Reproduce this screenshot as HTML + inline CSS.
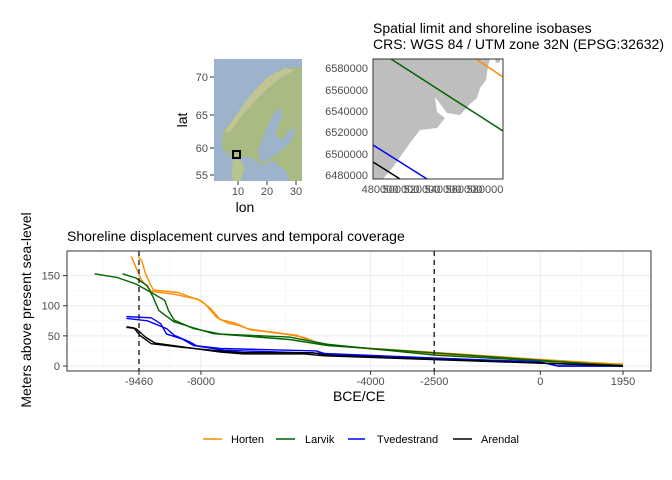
<!DOCTYPE html>
<html><head><meta charset="utf-8"><style>
body{margin:0;background:#fff;font-family:"Liberation Sans",sans-serif}
svg{display:block}
text{font-family:"Liberation Sans",sans-serif}
</style></head><body>
<svg id="c" width="672" height="480" xmlns="http://www.w3.org/2000/svg">
<rect width="672" height="480" fill="#fff"/>
<g>
<rect x="214" y="59" width="88" height="122" fill="#9cb3cb"/>
<polygon fill="#a9bb82" points="222,140 224,130 233,120 243,105 255,90 268,77 285,68 302,67 302,181 290,181 285,170 272,160 262,165 255,160 248,156 240,158 232,158 226,152 222,146"/>
<polygon fill="#ccc89a" opacity="0.7" points="224,132 233,120 243,105 255,90 268,77 285,68 295,70 280,78 266,90 252,104 240,118 230,132"/>
<polygon fill="#9cb3cb" points="262,140 268,125 275,112 280,108 283,115 278,125 276,135 282,140 290,130 296,128 292,140 285,148 275,155 268,160 260,162 258,150"/>
<polygon fill="#b8c48e" points="233,160 240,160 245,168 240,181 233,181 232,170"/>
<rect x="233" y="151" width="7" height="7" fill="none" stroke="#000" stroke-width="2"/>
</g>
<g font-size="11" fill="#4d4d4d" text-anchor="end">
<text x="208" y="81">70</text><text x="208" y="119">65</text><text x="208" y="152">60</text><text x="208" y="179">55</text>
</g>
<g stroke="#333"><line x1="210" x2="214" y1="77" y2="77"/><line x1="210" x2="214" y1="115" y2="115"/><line x1="210" x2="214" y1="148" y2="148"/><line x1="210" x2="214" y1="175" y2="175"/>
<line x1="238" x2="238" y1="181" y2="185"/><line x1="267" x2="267" y1="181" y2="185"/><line x1="296" x2="296" y1="181" y2="185"/></g>
<g font-size="11" fill="#4d4d4d" text-anchor="middle">
<text x="238" y="195">10</text><text x="267" y="195">20</text><text x="296" y="195">30</text></g>
<text x="245" y="212" font-size="14" text-anchor="middle">lon</text>
<text transform="translate(187,120) rotate(-90)" font-size="14" text-anchor="middle">lat</text>

<text x="373" y="33" font-size="14">Spatial limit and shoreline isobases</text>
<text x="373" y="49" font-size="14">CRS: WGS 84 / UTM zone 32N (EPSG:32632)</text>
<g>
<rect x="373" y="59" width="130" height="120" fill="#fff"/>
<polygon fill="#bebebe" points="373,59 490,59 488,66 486,80 480,88 477,98 470,104 460,115 447,113 435,97 437,112 445,118 437,128 420,130 410,143 403,153 393,167 383,179 373,179"/>
<polygon fill="#bebebe" points="495,59 500,59 500,62 496,63"/>
<line x1="391" y1="59" x2="503" y2="131" stroke="#006400" stroke-width="1.5"/>
<line x1="476" y1="59" x2="503" y2="77" stroke="#ff8c00" stroke-width="1.5"/>
<line x1="373" y1="145" x2="427" y2="179" stroke="#0000ff" stroke-width="1.5"/>
<line x1="373" y1="162" x2="400" y2="179" stroke="#000" stroke-width="1.5"/>
<rect x="373" y="59" width="130" height="120" fill="none" stroke="#333" stroke-width="1"/>
</g>
<g font-size="11" fill="#4d4d4d" text-anchor="end">
<text x="368" y="72">6580000</text><text x="368" y="94">6560000</text><text x="368" y="115">6540000</text><text x="368" y="136">6520000</text><text x="368" y="158">6500000</text><text x="368" y="179">6480000</text></g>
<g font-size="11" fill="#4d4d4d" text-anchor="middle">
<text x="380" y="193">480000</text><text x="401" y="193">500000</text><text x="422" y="193">520000</text><text x="443" y="193">540000</text><text x="464" y="193">560000</text><text x="485" y="193">580000</text></g>

<text x="67" y="241" font-size="14">Shoreline displacement curves and temporal coverage</text>
<g id="grid"></g>
<g id="series"></g>
<rect x="67" y="251" width="584" height="120" fill="none" stroke="#333" stroke-width="1"/>
<g id="axes" font-size="11" fill="#4d4d4d"></g>
<text x="359" y="401" font-size="14" text-anchor="middle">BCE/CE</text>
<text transform="translate(31,310) rotate(-90)" font-size="14" text-anchor="middle">Meters above present sea-level</text>
<g font-size="11">
<line x1="203" x2="222" y1="439" y2="439" stroke="#ff8c00" stroke-width="1.5"/><text x="231" y="443">Horten</text>
<line x1="276" x2="295" y1="439" y2="439" stroke="#006400" stroke-width="1.5"/><text x="305" y="443">Larvik</text>
<line x1="348" x2="365" y1="439" y2="439" stroke="#0000ff" stroke-width="1.5"/><text x="377" y="443">Tvedestrand</text>
<line x1="453" x2="472" y1="439" y2="439" stroke="#000" stroke-width="1.5"/><text x="481" y="443">Arendal</text>
</g>
</svg>
<script>
const xTicks=[-9460,-8000,-4000,-2500,0,1950];
const xMinor=[-10310,-8730,-6000,-3250,-1250,975];
const yTicks=[0,50,100,150];
const yMinor=[25,75,125];
const vlines=[-9460,-2500];
const seriesNames=["Horten","Horten","Larvik","Larvik","Tvedestrand","Tvedestrand","Arendal","Arendal"];
const seriesColors=["#ff8c00","#ff8c00","#006400","#006400","#0000ff","#0000ff","#000000","#000000"];
const hortenA_years=[-9641,-9532,-9397,-9171,-8628,-8086,-7905,-7634,-7362,-7091,-6820,-5916,-5554,-5193,-4108,-2480,1950];
const hortenA_m=[182,164,142,124,119,111,103,81,71,67,60,52,47,37,29,20,3];
const hortenB_years=[-9487,-9397,-9306,-9125,-8538,-7995,-7769,-7543,-7182,-6910,-6549,-5735,-5464,-5012,1950];
const hortenB_m=[182,175,153,126,122,108,95,77,71,62,58,51,43,34,2];
const larvikA_years=[-10509,-9984,-9532,-9171,-8854,-8764,-8628,-8176,-7543,-5916,-5464,-5012,-2480,1950];
const larvikA_m=[153,147,136,122,109,92,76,62,53,48,42,36,18,1];
const larvikB_years=[-9849,-9532,-9261,-9125,-8990,-8628,-7724,-5916,-5012,1950];
const larvikB_m=[153,146,133,114,92,73,54,44,34,0];
const tvedA_years=[-9758,-9171,-8945,-8809,-8447,-8176,-7543,-5283,-5012,-39,413,1950];
const tvedA_m=[82,80,70,53,45,34,29,25,19,7,0,0];
const tvedB_years=[-9758,-9261,-8809,-8628,-8266,-8086,-7453,-5193,52,413,1950];
const tvedB_m=[79,75,62,51,40,33,26,21,6,0,0];
const arenA_years=[-9758,-9578,-9442,-9171,-8447,-7724,-7001,-5374,-5012,1950];
const arenA_m=[65,63,51,37,31,26,22,22,18,0];
const arenB_years=[-9758,-9532,-9306,-9080,-8357,-7543,-7001,-5554,-5102,1950];
const arenB_m=[64,62,48,38,31,23,20,20,17,0];
const allYears=[hortenA_years,hortenB_years,larvikA_years,larvikB_years,tvedA_years,tvedB_years,arenA_years,arenB_years];
const allM=[hortenA_m,hortenB_m,larvikA_m,larvikB_m,tvedA_m,tvedB_m,arenA_m,arenB_m];

const NS="http://www.w3.org/2000/svg";
const X=v=>139+(v+9460)*0.04242;
const Y=v=>366-v*0.6027;
function mk(t,a,p){const e=document.createElementNS(NS,t);for(const k in a)e.setAttribute(k,a[k]);p.appendChild(e);return e;}
const grid=document.getElementById('grid'),ser=document.getElementById('series'),ax=document.getElementById('axes');
for(const v of xMinor){const l=mk('line',{x1:X(v),x2:X(v),y1:251,y2:371,stroke:'#f3f3f3','stroke-width':0.6},grid);

}
for(const v of yMinor){const l=mk('line',{x1:67,x2:651,y1:Y(v),y2:Y(v),stroke:'#f3f3f3','stroke-width':0.6},grid);

}
for(const v of xTicks){const l=mk('line',{x1:X(v),x2:X(v),y1:251,y2:371,stroke:'#ebebeb','stroke-width':1},grid);


mk('line',{x1:X(v),x2:X(v),y1:371,y2:375,stroke:'#333'},ax);
const t=mk('text',{x:X(v),y:385,'text-anchor':'middle'},ax);t.textContent=String(v);

}
for(const v of yTicks){const l=mk('line',{x1:67,x2:651,y1:Y(v),y2:Y(v),stroke:'#ebebeb','stroke-width':1},grid);


mk('line',{x1:63,x2:67,y1:Y(v),y2:Y(v),stroke:'#333'},ax);
const t=mk('text',{x:60,y:Y(v)+4,'text-anchor':'end'},ax);t.textContent=String(v);

}
for(let i=0;i<allYears.length;i++){
 const pts=allYears[i].map((y,j)=>X(y).toFixed(1)+','+Y(allM[i][j]).toFixed(1)).join(' ');
 const p=mk('polyline',{points:pts,fill:'none',stroke:seriesColors[i],'stroke-width':1.4,'stroke-linejoin':'round'},ser);
 
 
}
for(const v of vlines){const l=mk('line',{x1:X(v),x2:X(v),y1:251,y2:371,stroke:'#222','stroke-width':1.4,'stroke-dasharray':'5,4'},ser);

}
</script>
</body></html>
